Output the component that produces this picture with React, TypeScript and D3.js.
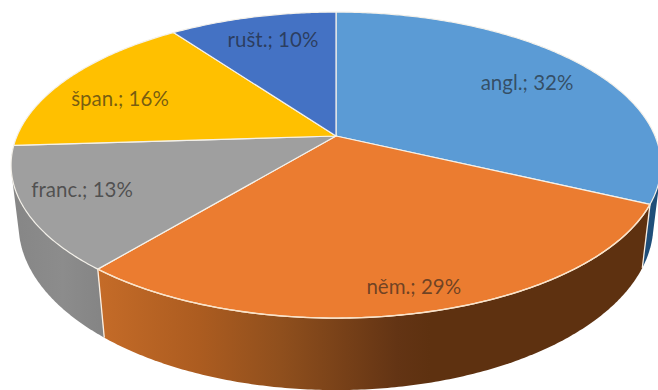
import React from "react";
import * as d3 from "d3";

const languages = ["angl.", "něm.", "franc.", "špan.", "rušt."];
const shares = [32, 29, 13, 16, 10];
const faceColors = ["#5B9BD5", "#EB7C30", "#9F9F9F", "#FFC000", "#4472C4"];
const labelReach = [0.75, 0.881, 0.819, 0.758, 0.776];
const labelBearingDeg = [59, 166.6, 245.3, 290.3, 343.1];

const WIDTH = 658;
const HEIGHT = 390;

type Disc = { cx: number; cy: number; rx: number; ry: number; k: number };

// Upper and lower discs of the extruded pie, each seen in perspective.
const upperDisc: Disc = { cx: 336, cy: 136, rx: 319, ry: 147.5, k: 0.19 };
const lowerDisc: Disc = { cx: 336, cy: 194, rx: 312, ry: 160, k: 0.184 };

const project = (d: Disc, angle: number, r = 1): [number, number] => {
  const u = r * Math.sin(angle);
  const v = -r * Math.cos(angle);
  const w = 1 - d.k * v;
  return [d.cx + (d.rx * u) / w, d.cy + (d.ry * v) / w];
};

const line = d3.line();

const sampleAngles = (a0: number, a1: number) => {
  const n = Math.max(2, Math.ceil((a1 - a0) / 0.01));
  return d3.range(n + 1).map((i) => a0 + ((a1 - a0) * i) / n);
};

const slices = d3.pie<number>().sort(null)(shares);

const sideHull = (a0: number, a1: number) => {
  const angles = sampleAngles(a0, a1);
  const pts = [
    ...angles.map((a) => project(upperDisc, a)),
    ...angles.map((a) => project(lowerDisc, a)),
  ];
  return "M" + d3.polygonHull(pts)!.join("L") + "Z";
};

const facePath = (a0: number, a1: number) => {
  const rim = sampleAngles(a0, a1).map((a) => project(upperDisc, a));
  return line([[upperDisc.cx, upperDisc.cy], ...rim])! + "Z";
};

export default function App() {
  const visibleSides = [
    { index: 0, a0: slices[0].endAngle - 0.45, a1: slices[0].endAngle, fill: "#1F4E79" },
    { index: 2, a0: slices[2].startAngle, a1: slices[2].endAngle, fill: "url(#greySide)" },
    { index: 1, a0: slices[1].startAngle, a1: slices[1].endAngle, fill: "url(#orangeSide)" },
  ];
  const frontRim = sampleAngles(slices[1].startAngle, slices[1].endAngle).map((a) =>
    project(upperDisc, a)
  );

  return (
    <svg
      width={WIDTH}
      height={HEIGHT}
      viewBox={`0 0 ${WIDTH} ${HEIGHT}`}
      style={{ position: "fixed", left: 0, top: 0, background: "#fff" }}
    >
      <defs>
        <linearGradient id="orangeSide" gradientUnits="userSpaceOnUse" x1="100" y1="0" x2="430" y2="0">
          <stop offset="0" stopColor="#C46B28" />
          <stop offset="0.3" stopColor="#AC5C20" />
          <stop offset="0.55" stopColor="#8F4F1D" />
          <stop offset="0.9" stopColor="#633414" />
          <stop offset="1" stopColor="#5E3110" />
        </linearGradient>
        <linearGradient id="greySide" gradientUnits="userSpaceOnUse" x1="12" y1="0" x2="104" y2="0">
          <stop offset="0" stopColor="#868686" />
          <stop offset="0.55" stopColor="#8C8C8C" />
          <stop offset="1" stopColor="#848484" />
        </linearGradient>
      </defs>

      {visibleSides.map((s) => (
        <path key={s.index} d={sideHull(s.a0, s.a1)} fill={s.fill} />
      ))}

      {/* vertical seams between the side walls */}
      {[slices[0].endAngle, slices[1].endAngle].map((a) => (
        <path
          key={a}
          d={line([project(upperDisc, a), project(lowerDisc, a)])!}
          stroke="#FBEFE2"
          strokeWidth={1.3}
          fill="none"
        />
      ))}

      {slices.map((s, i) => (
        <path
          key={languages[i]}
          d={facePath(s.startAngle, s.endAngle)}
          fill={faceColors[i]}
          stroke="#F4F1EA"
          strokeWidth={1.2}
          strokeLinejoin="round"
        />
      ))}

      {/* warm highlight along the front edge of the orange wedge */}
      <path d={line(frontRim)!} fill="none" stroke="#FBE3C8" strokeWidth={1.4} />

      {slices.map((s, i) => {
        const [x, y] = project(upperDisc, (labelBearingDeg[i] * Math.PI) / 180, labelReach[i]);
        return (
          <text
            key={languages[i]}
            x={x}
            y={y}
            dy="0.35em"
            textAnchor="middle"
            fontFamily="Lato, 'Open Sans', sans-serif"
            fontSize={20.5}
            fill="#1c1c1c"
            fillOpacity={0.62}
          >
            {`${languages[i]}; ${shares[i]}%`}
          </text>
        );
      })}
    </svg>
  );
}
